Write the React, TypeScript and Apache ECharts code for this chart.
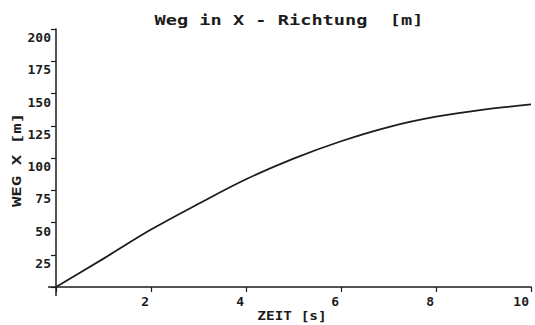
import React, { useEffect, useRef } from "react";
import * as echarts from "echarts";

const titleText = "Weg in X - Richtung  [m]";
const xAxisName = "ZEIT [s]";
const yAxisName = "WEG X [m]";

const timeValues = [0, 1, 2, 3, 4, 5, 6, 7, 8, 9, 10];
const distanceValues = [0, 22, 44.5, 64.5, 83.5, 99.5, 113, 124, 132, 137.5, 141.5];

const xTicks = [0, 2, 4, 6, 8, 10];
const yTicks = [0, 25, 50, 75, 100, 125, 150, 175, 200];

const MONO = "'DejaVu Sans Mono', 'Liberation Mono', monospace";
const INK = "#1c1c1c";

export default function App() {
  const ref = useRef<HTMLDivElement>(null);

  useEffect(() => {
    if (!ref.current) return;
    const chart = echarts.init(ref.current, null, { renderer: "svg" });
    const data = timeValues.map((t, i) => [t, distanceValues[i]]);

    chart.setOption({
      animation: false,
      backgroundColor: "#ffffff",
      grid: { left: 56, right: 4, top: 29, bottom: 38 },
      xAxis: {
        type: "value",
        min: xTicks[0],
        max: xTicks[xTicks.length - 1],
        interval: 2,
        axisLine: { show: true, onZero: false, lineStyle: { color: INK, width: 1.5 } },
        axisTick: { show: true, inside: false, length: 5, lineStyle: { color: INK, width: 1.2 } },
        splitLine: { show: false },
        axisLabel: {
          color: INK,
          fontFamily: MONO,
          fontWeight: "bold",
          fontSize: 13,
          align: "right",
          margin: 8,
          padding: [0, 2, 0, 0],
          formatter: (v: number) => (v === 0 ? "" : String(v)),
        },
      },
      yAxis: {
        type: "value",
        min: yTicks[0],
        max: yTicks[yTicks.length - 1],
        interval: 25,
        axisLine: { show: true, onZero: false, lineStyle: { color: INK, width: 1.5 } },
        axisTick: { show: true, inside: false, length: 5, lineStyle: { color: INK, width: 1.2 } },
        splitLine: { show: false },
        axisLabel: {
          color: INK,
          fontFamily: MONO,
          fontWeight: "bold",
          fontSize: 13,
          margin: 5,
          verticalAlign: "top",
          padding: [2, 0, 0, 0],
          formatter: (v: number) => (v === 0 ? "" : String(v)),
        },
      },
      series: [
        {
          type: "line",
          data,
          smooth: 0.35,
          showSymbol: false,
          lineStyle: { color: INK, width: 1.8 },
        },
      ],
    });

    const origin = chart.convertToPixel({ gridIndex: 0 }, [0, 0]) as number[];
    const ox = origin[0];
    const oy = origin[1];

    chart.setOption({
      graphic: [
        {
          type: "line",
          shape: { x1: ox - 8, y1: oy, x2: ox, y2: oy },
          style: { stroke: INK, lineWidth: 1.5 },
        },
        {
          type: "line",
          shape: { x1: ox, y1: oy, x2: ox, y2: oy + 9 },
          style: { stroke: INK, lineWidth: 1.5 },
        },
        {
          type: "text",
          x: 289,
          y: 20,
          scaleX: 1.33,
          style: {
            text: titleText,
            fontFamily: MONO,
            fontWeight: "bold",
            fontSize: 14,
            fill: INK,
            align: "center",
            verticalAlign: "middle",
          },
        },
        {
          type: "text",
          x: 292,
          y: 316,
          scaleX: 1.2,
          style: {
            text: xAxisName,
            fontFamily: MONO,
            fontWeight: "bold",
            fontSize: 12,
            fill: INK,
            align: "center",
            verticalAlign: "middle",
          },
        },
        {
          type: "text",
          x: 17,
          y: 160,
          rotation: Math.PI / 2,
          scaleX: 1.45,
          style: {
            text: yAxisName,
            fontFamily: MONO,
            fontWeight: "bold",
            fontSize: 12,
            fill: INK,
            align: "center",
            verticalAlign: "middle",
          },
        },
      ],
    });

    return () => chart.dispose();
  }, []);

  return (
    <div
      ref={ref}
      style={{ position: "fixed", left: 0, top: 0, width: 535, height: 325, background: "#fff" }}
    />
  );
}
